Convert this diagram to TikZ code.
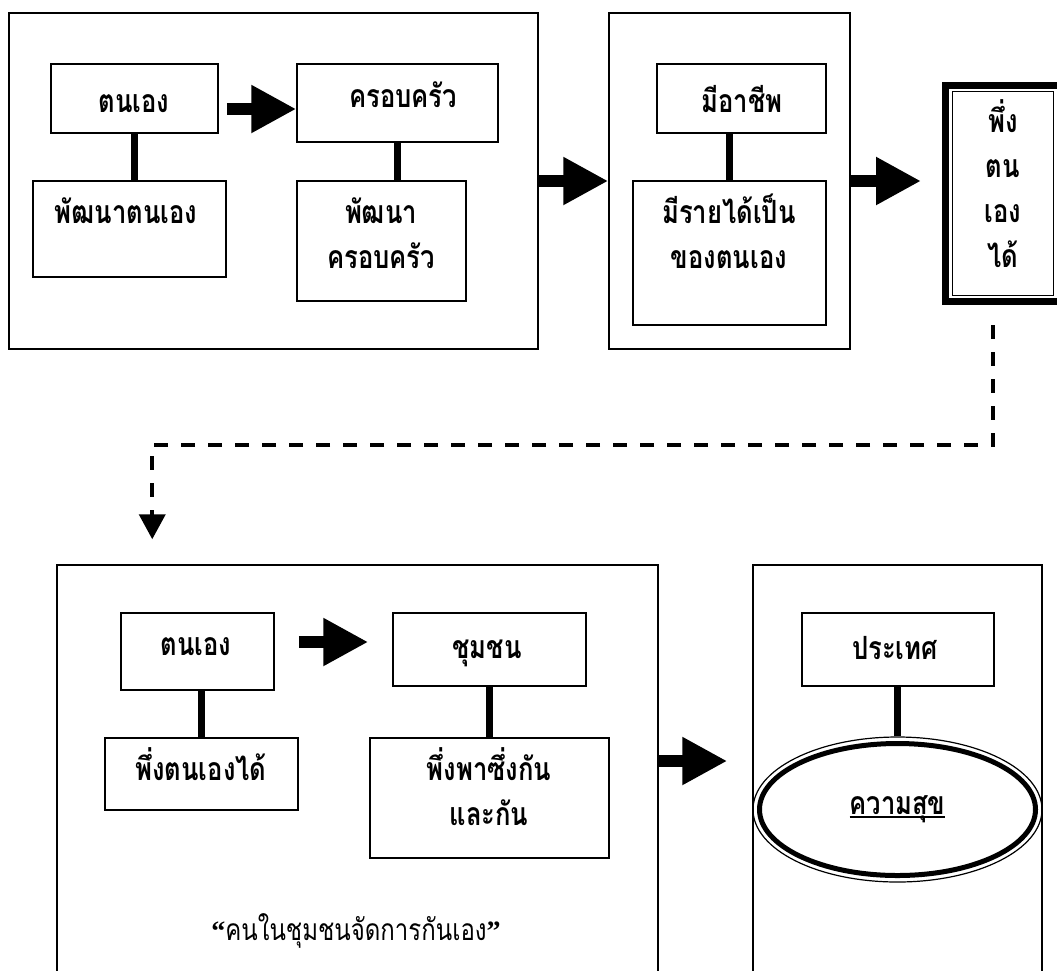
\documentclass[tikz,border=0pt]{standalone}
\usepackage{fontspec}
\newfontfamily\thaifont[Script=Thai,FakeStretch=0.8]{Loma}
\newfontfamily\quotefont{Liberation Serif}
\usetikzlibrary{arrows.meta,shapes.geometric}
\newcommand\thaiunderline[1]{\setbox0\hbox{#1}\rlap{\rule[-3pt]{\wd0}{1.6pt}}\box0}

\begin{document}
\begin{tikzpicture}
[x=1pt,y=-1pt,
  boxdecorate/.style={shape=rectangle,draw,line width=1.5pt,inner sep=0pt},%
  textdecorate/.style={font=\thaifont\bfseries\fontsize{32}{45}\selectfont,align=center,anchor=base,inner sep=0pt},%
  linkdecorate/.style={-,line width=7pt},%
  arrowdecorate/.style={-{Triangle[length=45pt,width=45pt]},line width=12pt},%
  dashdecorate/.style={-{Triangle[length=25pt,width=26pt]},line width=4pt,dash pattern=on 14pt off 13pt}]
\useasboundingbox (0,0) rectangle (1057,970);
\clip (0,0) rectangle (1057,970);
%% boxes
\foreach \nodename/\x/\y/\w/\h in {outerA/273.5/181/529/336, self/134.5/98.5/167/69,
  selfdev/129.5/229/193/96, family/397.5/103/201/78, familydev/381.5/241/169/120,
  outerB/729.5/181/241/336, career/741.5/98.5/169/69, income/729.5/253/193/144,
  outerC/357.5/782.5/601/435, self2/197.5/651.5/153/77, selfrel/201.5/774/193/72,
  community/489.5/649.5/193/73, mutual/489.5/798/239/120,
  outerD/897.5/782.5/289/435, country/898/649.5/192/73} {
  \node (\nodename) at (\x,\y) [boxdecorate,minimum width=\w pt,minimum height=\h pt] {};
}
\node (reliant) at (1003,193.5) [boxdecorate,line width=7pt,minimum width=115pt,minimum height=216pt] {};
\draw[line width=1.5pt] ([shift={(10.5,9.5)}]reliant.north west) rectangle ([shift={(-10.5,-9.5)}]reliant.south east);
\node (happy) at (897.5,809.5) [shape=ellipse,draw,line width=1.2pt,inner sep=0pt,
  minimum width=289pt,minimum height=145pt,font=\thaifont\bfseries\fontsize{32}{45}\selectfont] {\thaiunderline{ความสุข}};
\draw[line width=5pt] (happy.center) ellipse [x radius=138, y radius=66];
%% texts (y is the baseline of the last line)
\foreach \nodename/\x/\y/\txt in {selftext/134/112/ตนเอง, familytext/403/107/ครอบครัว,
  selfdevtext/126/223/พัฒนาตนเอง, familydevtext/381/268/พัฒนา\\ครอบครัว,
  careertext/742/112/มีอาชีพ, incometext/729/268/มีรายได้เป็น\\ของตนเอง,
  relianttext/1003/267/พึ่ง\\ตน\\เอง\\ได้, self2text/196/655/ตนเอง,
  communitytext/487/658/ชุมชน, selfreltext/201/780/พึ่งตนเองได้,
  mutualtext/489/825/พึ่งพาซึ่งกัน\\และกัน, countrytext/895/659/ประเทศ} {
  \node (\nodename) at (\x,\y) [textdecorate] {\txt};
}
\node (quotetext) at (356,940) [anchor=base,inner sep=0pt,font=\thaifont\fontsize{30}{36}\selectfont]
  {{\quotefont\bfseries\fontsize{28}{30}\selectfont “}คนในชุมชนจัดการกันเอง{\quotefont\bfseries\fontsize{28}{30}\selectfont ”}};
%% links
\path
\foreach \startnode/\endnode in {self.south/selfdev.north, family.south/familydev.north,
  income.north/career.south, selfrel.north/self2.south, mutual.north/community.south,
  happy.north/country.south}
{
  (\startnode) edge[linkdecorate] (\startnode |- \endnode)
};
%% arrows
\draw[arrowdecorate] ([shift={(8,10.5)}]self.east) -- ([shift={(0,6)}]family.west);
\draw[arrowdecorate] (outerA.east) -- (outerB.west);
\draw[arrowdecorate] (outerB.east) -- ([xshift=-21pt]reliant.west |- outerB.east);
\draw[arrowdecorate] ([shift={(24,-9.5)}]self2.east) -- ([shift={(-24,-7.5)}]community.west);
\draw[arrowdecorate] ([shift={(0,-21.5)}]outerC.east) -- ([shift={(-25,-21.5)}]outerD.west);
%% dashed link
\coordinate (dashstart) at ([shift={(-10,20)}]reliant.south);
\coordinate (dashbend) at ([shift={(0,120)}]dashstart);
\coordinate (dashend) at ([shift={(96,-25)}]outerC.north west);
\draw[dashdecorate] (dashstart) -- (dashbend) -| (dashend);
\end{tikzpicture}
\end{document}
